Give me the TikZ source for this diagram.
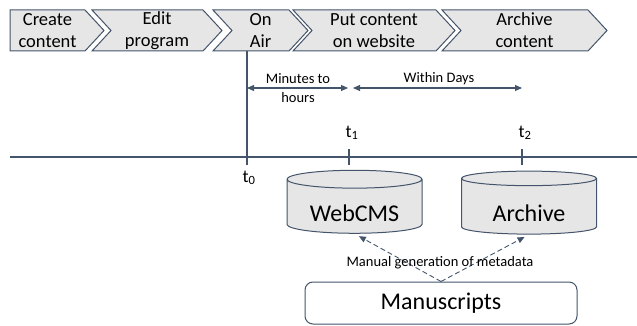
\documentclass[tikz,border=0pt]{standalone}
\usepackage{fontspec}
\setmainfont{Carlito}
\usetikzlibrary{positioning,arrows.meta,shapes.geometric}
\definecolor{linegray}{RGB}{68,84,106}
\definecolor{blockgray}{RGB}{231,230,230}
% chevron: name, left x, tip x, notch depth, text
\newcommand{\stagebox}[5]{%
  \draw[stageline] (#2,10)--(#3-19,10)--(#3,30.5)--(#3-19,51)--(#2,51)--(#2+#4,30.5)--cycle;
  \node[stagetext] (#1) at ({(#2+#4+#3-19)/2},30.5) {#5};}
\tikzset{
  stageline/.style = {draw=linegray, fill=blockgray, line width=1pt, line join=miter},
  stagetext/.style = {inner sep=0pt, align=center,
                  font=\fontsize{18.5}{22}\selectfont},
  db/.style    = {cylinder, shape border rotate=90, draw=linegray, fill=blockgray,
                  line width=1pt, aspect=0.2, minimum width=135pt,
                  minimum height=63pt, inner sep=0pt, text height=30pt,
                  font=\fontsize{24}{28}\selectfont},
  doc/.style   = {rectangle, draw=linegray, rounded corners=8pt, line width=1pt,
                  minimum width=272pt, minimum height=42pt,
                  font=\fontsize{24}{28}\selectfont},
  tline/.style = {draw=linegray, line width=1.1pt},
  dur/.style   = {tline, {Triangle[length=7pt,width=6pt]}-{Triangle[length=7pt,width=6pt]}},
  metaarr/.style = {tline, line width=0.9pt, dash pattern=on 5pt off 3pt,
                  -{Triangle[length=7pt,width=6pt]}, shorten >=5pt},
  lbl/.style   = {inner sep=0pt, align=center, font=\fontsize{14.5}{18}\selectfont},
  tlab/.style  = {inner sep=0pt, font=\fontsize{18}{20}\selectfont}
}

\begin{document}
\begin{tikzpicture}[x=1pt,y=-1pt]
    \useasboundingbox (0,0) rectangle (637,326);
    % workflow stages
    \stagebox{create}{10}{104}{0}{Create\\content}
    \stagebox{edit}{92}{222}{19}{Edit\\program}
    \stagebox{onair}{213}{308}{19}{On\\Air}
    \stagebox{put}{293}{455}{19}{Put content\\on website}
    \stagebox{arch}{442}{607}{19}{Archive\\content}
    % time axis
    \coordinate (axL) at (10,157);
    \coordinate (axR) at (637,157);
    \coordinate (t0) at (247,165);
    \coordinate (t1) at (349,165);
    \coordinate (t2) at (522,165);
    \draw[tline] (axL)--(axR);
    \draw[tline] (t0)--(t0 |- 0,51);
    \draw[tline] (t1)--++(0,-16);
    \draw[tline] (t2)--++(0,-16);
    \node[tlab] (t0lab) at (249,178) {t\textsubscript{0}};
    \node[tlab] (t1lab) at (352,133) {t\textsubscript{1}};
    \node[tlab] (t2lab) at (525,133) {t\textsubscript{2}};
    % durations
    \coordinate (a0) at (247,88);
    \coordinate (a1) at (348,88);
    \coordinate (b0) at (353,88);
    \coordinate (b1) at (522,88);
    \draw[dur] (a0)--(a1);
    \draw[dur] (b0)--(b1);
    \node[lbl] (mins) at (298,88) {Minutes to\\[1pt]hours};
    \node[lbl] (days) at (439,79) {Within Days};
    % storage
    \node[db] (web) at (354.5,206.5) {WebCMS};
    \node[db] (archive) at (529,206.5) {Archive};
    \node[doc] (manu) at (441,303) {Manuscripts};
    \draw[metaarr] (manu.north)--(web.south);
    \draw[metaarr] (manu.north)--(archive.south);
    \node[lbl] (metalab) at (440,263) {Manual generation of metadata};
\end{tikzpicture}
\end{document}
